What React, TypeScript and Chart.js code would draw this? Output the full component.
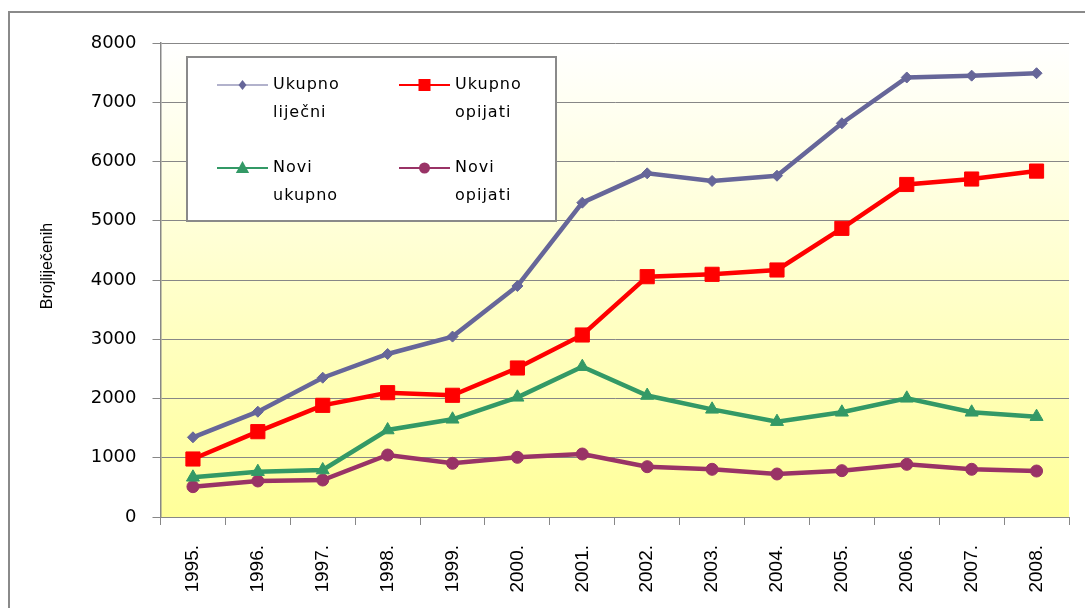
import React, { useEffect, useRef } from "react";
import { Chart, registerables } from "chart.js";

Chart.register(...registerables);

const years = ["1995.", "1996.", "1997.", "1998.", "1999.", "2000.", "2001.", "2002.", "2003.", "2004.", "2005.", "2006.", "2007.", "2008."];
const ukupnoLijecni = [1345, 1777, 2351, 2751, 3045, 3899, 5305, 5800, 5671, 5760, 6645, 7418, 7449, 7490];
const ukupnoOpijati = [979, 1440, 1885, 2098, 2054, 2515, 3072, 4056, 4096, 4169, 4872, 5612, 5704, 5838];
const noviUkupno = [670, 765, 793, 1468, 1649, 2020, 2537, 2050, 1817, 1609, 1767, 2003, 1767, 1693];
const noviOpijati = [512, 608, 624, 1046, 906, 1007, 1063, 849, 805, 726, 782, 889, 805, 776];
const seriesLabels = ["Ukupno liječni", "Ukupno opijati", "Novi ukupno", "Novi opijati"];
const seriesColors = ["#666699", "#FF0000", "#339966", "#993366"];
const seriesMarkers = ["rectRot", "rect", "triangle", "circle"];
const yMin = 0;
const yMax = 8000;
const yStep = 1000;
const yAxisTitle = "Brojliječenih";

const GRID = "#878787";

function drawMarker(ctx: CanvasRenderingContext2D, style: string, x: number, y: number, r: number, color: string) {
  ctx.save();
  ctx.fillStyle = color;
  ctx.beginPath();
  if (style === "rectRot") {
    ctx.moveTo(x, y - r);
    ctx.lineTo(x + r * 0.8, y);
    ctx.lineTo(x, y + r);
    ctx.lineTo(x - r * 0.8, y);
    ctx.closePath();
  } else if (style === "rect") {
    ctx.rect(x - r, y - r, 2 * r, 2 * r);
  } else if (style === "triangle") {
    ctx.moveTo(x, y - r);
    ctx.lineTo(x + r * 0.95, y + r * 0.7);
    ctx.lineTo(x - r * 0.95, y + r * 0.7);
    ctx.closePath();
  } else {
    ctx.arc(x, y, r, 0, Math.PI * 2);
  }
  ctx.fill();
  ctx.restore();
}

const decorPlugin = {
  id: "decor",
  beforeDraw(chart: any) {
    const { ctx, chartArea } = chart;
    ctx.save();
    // outer frame
    ctx.strokeStyle = "#8a8a8a";
    ctx.lineWidth = 2;
    ctx.strokeRect(9, 12, 1200, 800);
    // plot area gradient
    const g = ctx.createLinearGradient(0, chartArea.top, 0, chartArea.bottom);
    g.addColorStop(0, "#FFFFFF");
    g.addColorStop(1, "#FFFF99");
    ctx.fillStyle = g;
    ctx.fillRect(chartArea.left, chartArea.top, chartArea.right - chartArea.left, chartArea.bottom - chartArea.top);
    ctx.restore();
  },
  afterDraw(chart: any) {
    const { ctx } = chart;
    ctx.save();
    // y axis title
    ctx.translate(48, 266);
    ctx.rotate(-Math.PI / 2);
    ctx.fillStyle = "#000";
    ctx.font = '16px "Liberation Sans"';
    ctx.textAlign = "center";
    ctx.textBaseline = "middle";
    ctx.fillText(yAxisTitle, 0, 0);
    ctx.restore();

    // legend
    ctx.save();
    const lx = 187, ly = 57, lw = 369, lh = 164;
    ctx.fillStyle = "#FFFFFF";
    ctx.fillRect(lx, ly, lw, lh);
    ctx.strokeStyle = "#8a8a8a";
    ctx.lineWidth = 2;
    ctx.strokeRect(lx, ly, lw, lh);
    const colX = [217, 399];
    const rowY = [85, 168];
    const markerR = [5, 6, 7, 5.5];
    chart.data.datasets.forEach((ds: any, i: number) => {
      const cx = colX[i % 2];
      const cy = rowY[Math.floor(i / 2)];
      ctx.strokeStyle = ds.borderColor;
      ctx.lineWidth = i === 0 ? 1.2 : 1.8;
      ctx.beginPath();
      ctx.moveTo(cx, cy);
      ctx.lineTo(cx + 51, cy);
      ctx.stroke();
      drawMarker(ctx, seriesMarkers[i], cx + 25.5, cy, markerR[i], ds.borderColor);
      const parts = String(ds.label).split(" ");
      ctx.fillStyle = "#000";
      ctx.font = '16px "DejaVu Sans"';
      (ctx as any).letterSpacing = "1px";
      ctx.textAlign = "left";
      ctx.textBaseline = "middle";
      parts.forEach((p, k) => ctx.fillText(p, cx + 56, cy + k * 28));
    });
    ctx.restore();
  },
};

export default function App() {
  const ref = useRef<HTMLCanvasElement>(null);
  useEffect(() => {
    if (!ref.current) return;
    const seriesData = [ukupnoLijecni, ukupnoOpijati, noviUkupno, noviOpijati];
    const radii = [5.5, 10, 7.5, 6];
    const chart = new Chart(ref.current, {
      type: "line",
      data: {
        labels: years,
        datasets: seriesData.map((d, i) => ({
          label: seriesLabels[i],
          data: d,
          borderColor: seriesColors[i],
          backgroundColor: seriesColors[i],
          borderWidth: 4.5,
          pointStyle: seriesMarkers[i] as any,
          pointRadius: radii[i],
          pointBackgroundColor: seriesColors[i],
          pointBorderColor: seriesColors[i],
          pointBorderWidth: 1,
          tension: 0,
          fill: false,
        })),
      },
      options: {
        responsive: false,
        animation: false,
        layout: { padding: { top: 43, right: 16, left: 0, bottom: 0 } },
        plugins: { legend: { display: false }, tooltip: { enabled: false } },
        scales: {
          x: {
            type: "category",
            offset: true,
            grid: { offset: true, drawOnChartArea: false, drawTicks: true, tickLength: 8, color: GRID },
            border: { color: GRID, width: 1 },
            ticks: {
              minRotation: 90,
              maxRotation: 90,
              autoSkip: false,
              padding: 20,
              color: "#000",
              font: { family: "Liberation Sans", size: 19 },
            },
            afterFit: (s: any) => {
              s.height = 91;
              s.paddingLeft = 0;
              s.paddingRight = 0;
            },
          },
          y: {
            min: yMin,
            max: yMax,
            ticks: {
              stepSize: yStep,
              padding: 16,
              color: "#000",
              font: { family: "DejaVu Sans", size: 18 },
              callback: (v: any) => String(v),
            },
            grid: { color: GRID, tickLength: 8 },
            border: { color: GRID, width: 1.5 },
            afterFit: (s: any) => {
              s.width = 160.5;
              s.paddingTop = 0;
              s.paddingBottom = 0;
            },
          },
        },
      },
      plugins: [decorPlugin],
    });
    return () => chart.destroy();
  }, []);
  return (
    <div style={{ position: "absolute", left: 0, top: 0, width: 1085, height: 608 }}>
      <canvas ref={ref} width={1085} height={608} style={{ display: "block" }} />
    </div>
  );
}
